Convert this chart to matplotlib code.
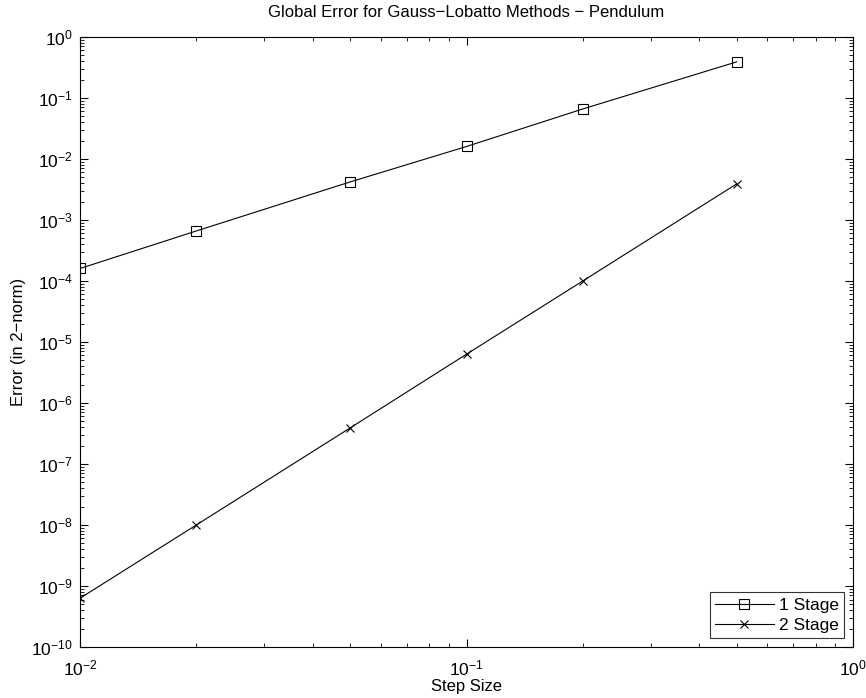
import numpy as np
import matplotlib.pyplot as plt
from matplotlib.ticker import LogLocator, NullFormatter

plt.rcParams['font.family'] = ['Liberation Sans', 'DejaVu Sans']
plt.rcParams['mathtext.fontset'] = 'custom'
plt.rcParams['mathtext.rm'] = 'Liberation Sans'

step = [0.01, 0.02, 0.05, 0.1, 0.2, 0.5]
err_1stage = [1.6e-4, 6.6e-4, 4.2e-3, 1.6e-2, 6.6e-2, 0.39]
err_2stage = [6.3e-10, 1.0e-8, 3.9e-7, 6.3e-6, 1.0e-4, 3.9e-3]

fig = plt.figure(figsize=(8.66, 6.98), dpi=100)
ax = fig.add_axes([0.0924, 0.0731, 0.8926, 0.874])

ax.loglog(step, err_1stage, 'k-', marker='s', mfc='none', ms=7, lw=0.8, mew=0.8, label='1 Stage')
ax.loglog(step, err_2stage, 'k-', marker='x', ms=6, lw=0.8, mew=0.8, label='2 Stage')

ax.set_xlim(1e-2, 1e0)
ax.set_ylim(1e-10, 1e0)
ax.set_yticks([10.0**k for k in range(-10, 1)])
ax.set_xticks([1e-2, 1e-1, 1e0])
ax.yaxis.set_minor_locator(LogLocator(base=10, subs=np.arange(2, 10), numticks=100))
ax.yaxis.set_minor_formatter(NullFormatter())
ax.xaxis.set_minor_locator(LogLocator(base=10, subs=np.arange(2, 10), numticks=100))
ax.xaxis.set_minor_formatter(NullFormatter())

ax.tick_params(which='both', direction='in', top=True, right=True, labelsize=12.5)
ax.tick_params(which='major', length=6, width=0.8)
ax.tick_params(which='minor', length=3, width=0.6)
ax.tick_params(axis='x', pad=8)
ax.tick_params(axis='y', pad=5)

ax.set_title('Global Error for Gauss\u2212Lobatto Methods \u2212 Pendulum', fontsize=12, pad=14)
ax.set_xlabel('Step Size', fontsize=12, labelpad=1)
ax.set_ylabel('Error (in 2\u2212norm)', fontsize=12, labelpad=4)

leg = ax.legend(loc='lower right', fancybox=False, edgecolor='k', fontsize=12.5,
                handlelength=3.4, handletextpad=0.3, borderaxespad=0.5,
                labelspacing=0.3, borderpad=0.3)
leg.get_frame().set_linewidth(0.8)

fig.savefig('out.png')
